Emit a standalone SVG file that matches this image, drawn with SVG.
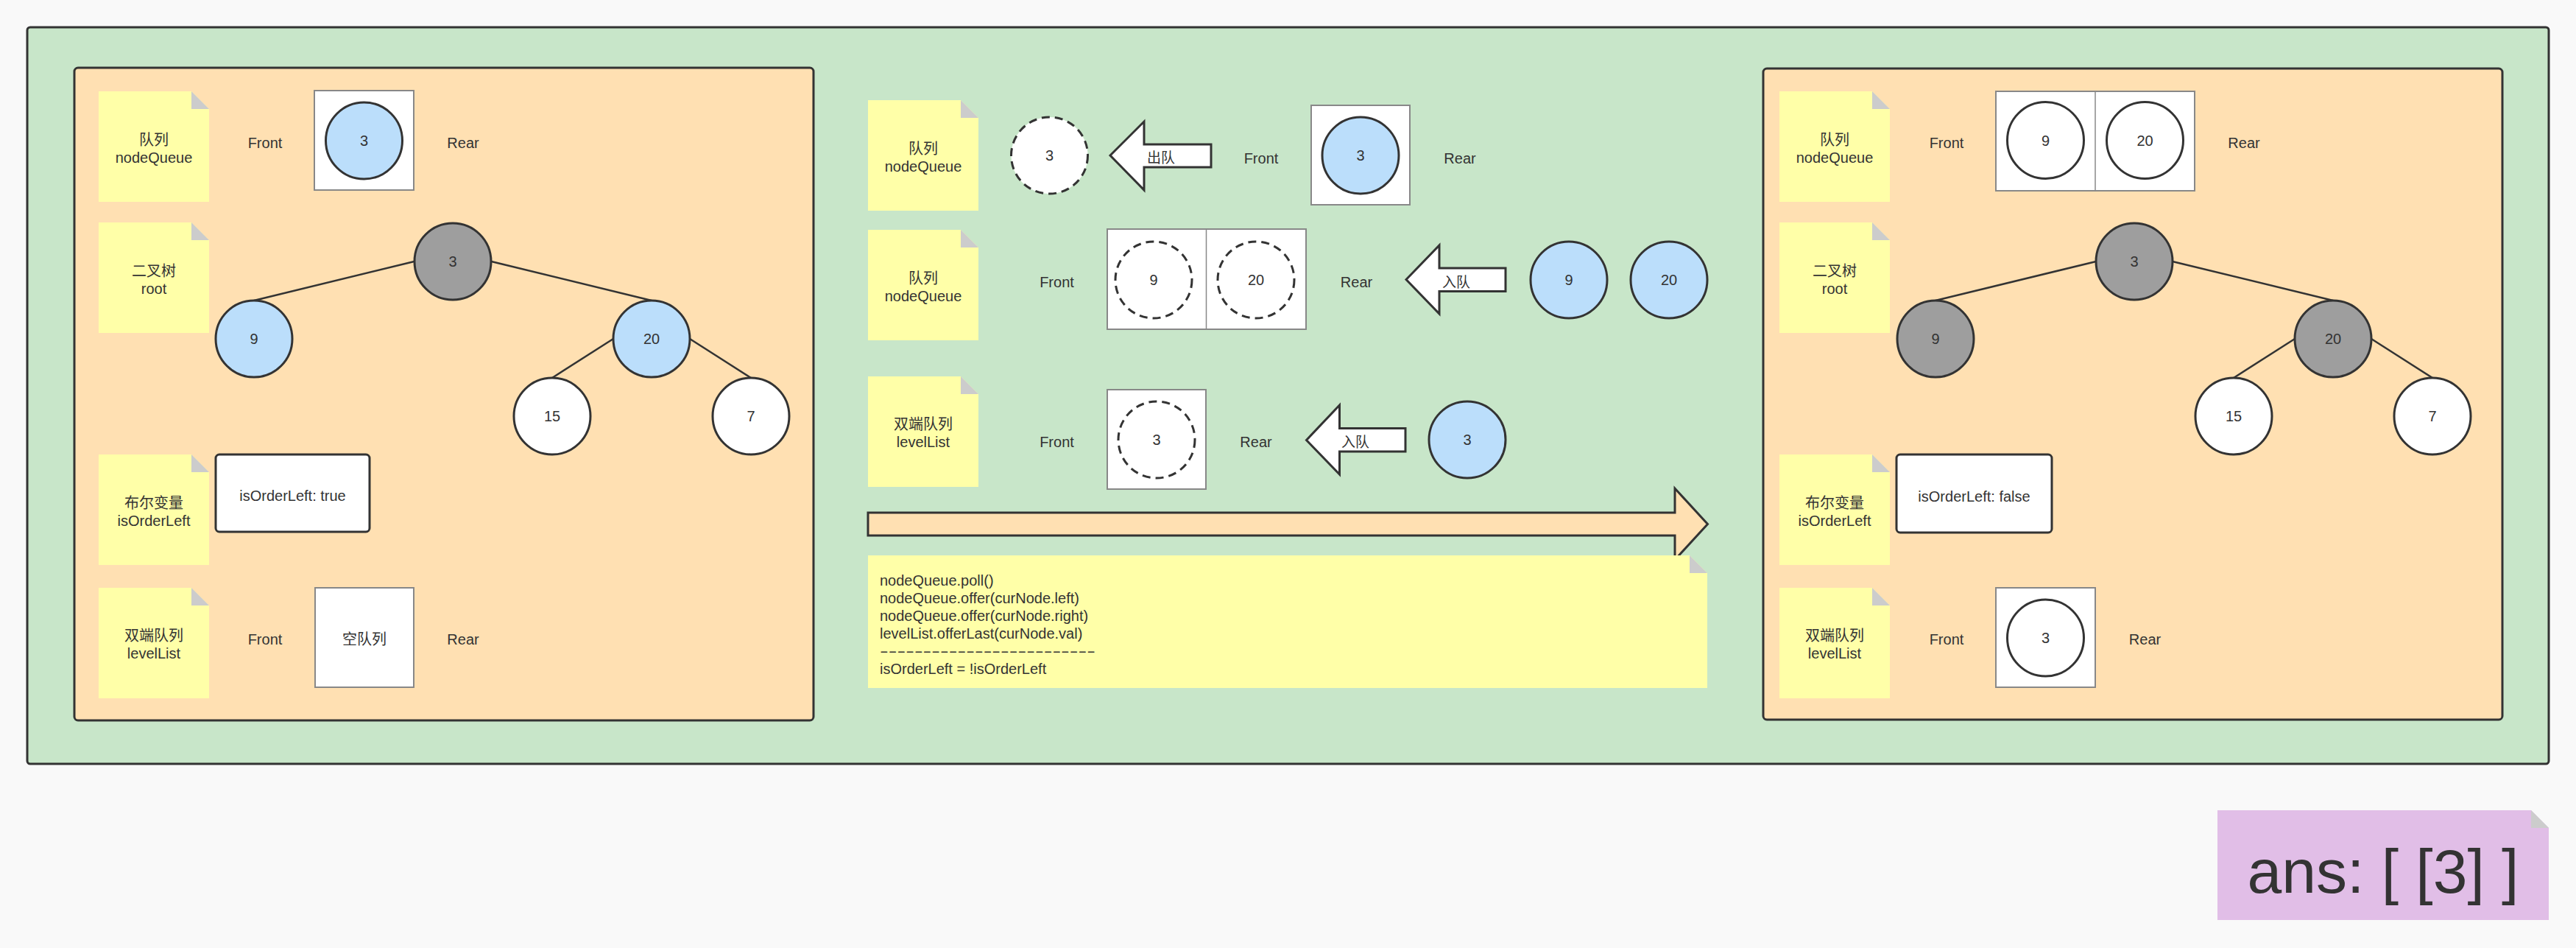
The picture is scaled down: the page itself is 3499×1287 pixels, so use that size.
<svg xmlns="http://www.w3.org/2000/svg" width="3499" height="1287" viewBox="0 0 3499 1287">
<style>
.bg{fill:#f9f9f9}
.panel{fill:#c8e6c9;stroke:#333;stroke-width:3}
.sub{fill:#ffe0b2;stroke:#333;stroke-width:3}
.note{fill:#ffffa8}
.ans{fill:#e1bee7}
.fold{fill:#cccccc}
.t{font-family:"Liberation Sans","Noto Sans CJK SC",sans-serif;font-size:20px;fill:#333;text-anchor:middle}
.tl{font-family:"Liberation Sans","Noto Sans CJK SC",sans-serif;font-size:20px;fill:#333;text-anchor:start}
.qbox{fill:#fff;stroke:#888;stroke-width:2}
.vbox{fill:#fff;stroke:#333;stroke-width:3}
.n{stroke:#333;stroke-width:3}
.blue{fill:#bbdefb}
.gray{fill:#9e9e9e}
.white{fill:#fff}
.dash{fill:#fff;stroke:#333;stroke-width:3;stroke-dasharray:11 7}
.edge{stroke:#333;stroke-width:2.5;fill:none}
.arr{fill:#fff;stroke:#333;stroke-width:3;stroke-linejoin:miter}
.big{fill:#ffe0b2;stroke:#333;stroke-width:3}
</style>
<rect class="bg" x="0" y="0" width="3499" height="1287"/>
<rect id="panel" class="panel" x="37" y="37" width="3425" height="1000" rx="4"/>

<g id="left-panel">
<rect class="sub" x="101" y="92" width="1004" height="886" rx="5"/>
</g>
<g id="right-panel">
<rect class="sub" x="2395" y="93" width="1004" height="884" rx="5"/>
</g>

<g id="connectors">
<line class="edge" x1="562.5" y1="355" x2="345" y2="408"/>
<line class="edge" x1="667.5" y1="355" x2="885" y2="408"/>
<line class="edge" x1="833" y1="460" x2="750" y2="513"/>
<line class="edge" x1="937" y1="460" x2="1020" y2="513"/>
<line class="edge" x1="2847" y1="355" x2="2629" y2="408"/>
<line class="edge" x1="2951" y1="355" x2="3169" y2="408"/>
<line class="edge" x1="3117" y1="460" x2="3034" y2="513"/>
<line class="edge" x1="3221" y1="460" x2="3304" y2="513"/>
</g>

<!-- Left panel nodes -->
<g id="L-note-queue"><path class="note" d="M134 124H260L284 148V274H134Z"/><path class="fold" d="M260 124L284 148H260Z"/>
<text class="t" x="209" y="197">队列</text><text class="t" x="209" y="221">nodeQueue</text></g>
<g id="L-queue"><text class="t" x="360" y="201">Front</text>
<rect class="qbox" x="427" y="123" width="135" height="135"/>
<circle class="n blue" cx="494.5" cy="191" r="52"/><text class="t" x="494.5" y="198">3</text>
<text class="t" x="629" y="201">Rear</text></g>
<g id="L-note-tree"><path class="note" d="M134 302H260L284 326V452H134Z"/><path class="fold" d="M260 302L284 326H260Z"/>
<text class="t" x="209" y="375">二叉树</text><text class="t" x="209" y="399">root</text></g>
<g id="L-n3"><circle class="n gray" cx="615" cy="355" r="52"/><text class="t" x="615" y="362">3</text></g>
<g id="L-n9"><circle class="n blue" cx="345" cy="460" r="52"/><text class="t" x="345" y="467">9</text></g>
<g id="L-n20"><circle class="n blue" cx="885" cy="460" r="52"/><text class="t" x="885" y="467">20</text></g>
<g id="L-n15"><circle class="n white" cx="750" cy="565" r="52"/><text class="t" x="750" y="572">15</text></g>
<g id="L-n7"><circle class="n white" cx="1020" cy="565" r="52"/><text class="t" x="1020" y="572">7</text></g>
<g id="L-note-bool"><path class="note" d="M134 617H260L284 641V767H134Z"/><path class="fold" d="M260 617L284 641H260Z"/>
<text class="t" x="209" y="690">布尔变量</text><text class="t" x="209" y="714">isOrderLeft</text></g>
<g id="L-bool"><rect class="vbox" x="293" y="617" width="209" height="105" rx="5"/><text class="t" x="397.5" y="680">isOrderLeft: true</text></g>
<g id="L-note-list"><path class="note" d="M134 798H260L284 822V948H134Z"/><path class="fold" d="M260 798L284 822H260Z"/>
<text class="t" x="209" y="870">双端队列</text><text class="t" x="209" y="894">levelList</text></g>
<g id="L-list"><text class="t" x="360" y="875">Front</text>
<rect class="qbox" x="428" y="798" width="134" height="135"/><text class="t" x="495" y="875">空队列</text>
<text class="t" x="629" y="875">Rear</text></g>

<!-- Middle -->
<g id="M-note1"><path class="note" d="M1179 136H1305L1329 160V286H1179Z"/><path class="fold" d="M1305 136L1329 160H1305Z"/>
<text class="t" x="1254" y="209">队列</text><text class="t" x="1254" y="233">nodeQueue</text></g>
<g id="M-out3"><circle class="dash" cx="1425.5" cy="211" r="52"/><text class="t" x="1425.5" y="218">3</text></g>
<g id="M-arrow-out"><polygon class="arr" points="1508,211 1554,165 1554,196 1645,196 1645,227 1554,227 1554,258"/>
<text class="t" x="1577" y="221" style="font-size:19px">出队</text></g>
<g id="M-queue1"><text class="t" x="1713" y="222">Front</text>
<rect class="qbox" x="1781" y="143" width="134" height="135"/>
<circle class="n blue" cx="1848" cy="211" r="52"/><text class="t" x="1848" y="218">3</text>
<text class="t" x="1983" y="222">Rear</text></g>

<g id="M-note2"><path class="note" d="M1179 312H1305L1329 336V462H1179Z"/><path class="fold" d="M1305 312L1329 336H1305Z"/>
<text class="t" x="1254" y="385">队列</text><text class="t" x="1254" y="409">nodeQueue</text></g>
<g id="M-queue2"><text class="t" x="1435.5" y="390">Front</text>
<rect class="qbox" x="1504" y="311" width="270" height="136"/><line x1="1638.5" y1="311" x2="1638.5" y2="447" stroke="#888" stroke-width="1.5"/>
<circle class="dash" cx="1567" cy="380" r="52"/><text class="t" x="1567" y="387">9</text>
<circle class="dash" cx="1706" cy="380" r="52"/><text class="t" x="1706" y="387">20</text>
<text class="t" x="1842.5" y="390">Rear</text></g>
<g id="M-arrow-in1"><polygon class="arr" points="1910,379.5 1955,333 1955,364 2045,364 2045,395.5 1955,395.5 1955,426"/>
<text class="t" x="1978" y="390" style="font-size:19px">入队</text></g>
<g id="M-in9"><circle class="n blue" cx="2131" cy="380" r="52"/><text class="t" x="2131" y="387">9</text></g>
<g id="M-in20"><circle class="n blue" cx="2267" cy="380" r="52"/><text class="t" x="2267" y="387">20</text></g>

<g id="M-note3"><path class="note" d="M1179 511H1305L1329 535V661H1179Z"/><path class="fold" d="M1305 511L1329 535H1305Z"/>
<text class="t" x="1254" y="583">双端队列</text><text class="t" x="1254" y="607">levelList</text></g>
<g id="M-list"><text class="t" x="1435.5" y="607">Front</text>
<rect class="qbox" x="1504" y="529" width="134" height="135"/>
<circle class="dash" cx="1571" cy="597" r="52"/><text class="t" x="1571" y="604">3</text>
<text class="t" x="1706" y="607">Rear</text></g>
<g id="M-arrow-in2"><polygon class="arr" points="1774.5,597.5 1819.5,550 1819.5,581.5 1909,581.5 1909,613 1819.5,613 1819.5,644"/>
<text class="t" x="1841" y="607" style="font-size:19px">入队</text></g>
<g id="M-in3"><circle class="n blue" cx="1993" cy="597" r="52"/><text class="t" x="1993" y="604">3</text></g>

<g id="M-big-arrow"><polygon class="big" points="1179,696 2275,696 2275,663 2319.5,711.5 2275,760 2275,727 1179,727"/></g>
<g id="M-code"><path class="note" d="M1179 754H2295L2319 778V934H1179Z"/><path class="fold" d="M2295 754L2319 778H2295Z"/>
<text class="tl" x="1195" y="795">nodeQueue.poll()</text>
<text class="tl" x="1195" y="819">nodeQueue.offer(curNode.left)</text>
<text class="tl" x="1195" y="843">nodeQueue.offer(curNode.right)</text>
<text class="tl" x="1195" y="867">levelList.offerLast(curNode.val)</text>
<text class="tl" x="1195" y="891" textLength="293" lengthAdjust="spacingAndGlyphs">-------------------------</text>
<text class="tl" x="1195" y="915">isOrderLeft = !isOrderLeft</text></g>

<!-- Right panel nodes -->
<g id="R-note-queue"><path class="note" d="M2417 124H2543L2567 148V274H2417Z"/><path class="fold" d="M2543 124L2567 148H2543Z"/>
<text class="t" x="2492" y="197">队列</text><text class="t" x="2492" y="221">nodeQueue</text></g>
<g id="R-queue"><text class="t" x="2644" y="201">Front</text>
<rect class="qbox" x="2711" y="124" width="270" height="135"/><line x1="2846" y1="124" x2="2846" y2="259" stroke="#888" stroke-width="1.5"/>
<circle class="n white" cx="2778.5" cy="190.5" r="52"/><text class="t" x="2778.5" y="197.5">9</text>
<circle class="n white" cx="2913.5" cy="190.5" r="52"/><text class="t" x="2913.5" y="197.5">20</text>
<text class="t" x="3048" y="201">Rear</text></g>
<g id="R-note-tree"><path class="note" d="M2417 302H2543L2567 326V452H2417Z"/><path class="fold" d="M2543 302L2567 326H2543Z"/>
<text class="t" x="2492" y="375">二叉树</text><text class="t" x="2492" y="399">root</text></g>
<g id="R-n3"><circle class="n gray" cx="2899" cy="355" r="52"/><text class="t" x="2899" y="362">3</text></g>
<g id="R-n9"><circle class="n gray" cx="2629" cy="460" r="52"/><text class="t" x="2629" y="467">9</text></g>
<g id="R-n20"><circle class="n gray" cx="3169" cy="460" r="52"/><text class="t" x="3169" y="467">20</text></g>
<g id="R-n15"><circle class="n white" cx="3034" cy="565" r="52"/><text class="t" x="3034" y="572">15</text></g>
<g id="R-n7"><circle class="n white" cx="3304" cy="565" r="52"/><text class="t" x="3304" y="572">7</text></g>
<g id="R-note-bool"><path class="note" d="M2417 617H2543L2567 641V767H2417Z"/><path class="fold" d="M2543 617L2567 641H2543Z"/>
<text class="t" x="2492" y="690">布尔变量</text><text class="t" x="2492" y="714">isOrderLeft</text></g>
<g id="R-bool"><rect class="vbox" x="2576" y="617" width="211" height="106" rx="5"/><text class="t" x="2681.5" y="681">isOrderLeft: false</text></g>
<g id="R-note-list"><path class="note" d="M2417 798H2543L2567 822V948H2417Z"/><path class="fold" d="M2543 798L2567 822H2543Z"/>
<text class="t" x="2492" y="870">双端队列</text><text class="t" x="2492" y="894">levelList</text></g>
<g id="R-list"><text class="t" x="2644" y="875">Front</text>
<rect class="qbox" x="2711" y="798" width="135" height="135"/>
<circle class="n white" cx="2778.5" cy="866" r="52"/><text class="t" x="2778.5" y="873">3</text>
<text class="t" x="2913.5" y="875">Rear</text></g>

<g id="ans"><path class="ans" d="M3012 1100H3438L3462 1124V1249H3012Z"/><path class="fold" d="M3438 1100L3462 1124H3438Z"/>
<text class="t" x="3237" y="1212" style="font-size:84px">ans: [ [3] ]</text></g>
</svg>
